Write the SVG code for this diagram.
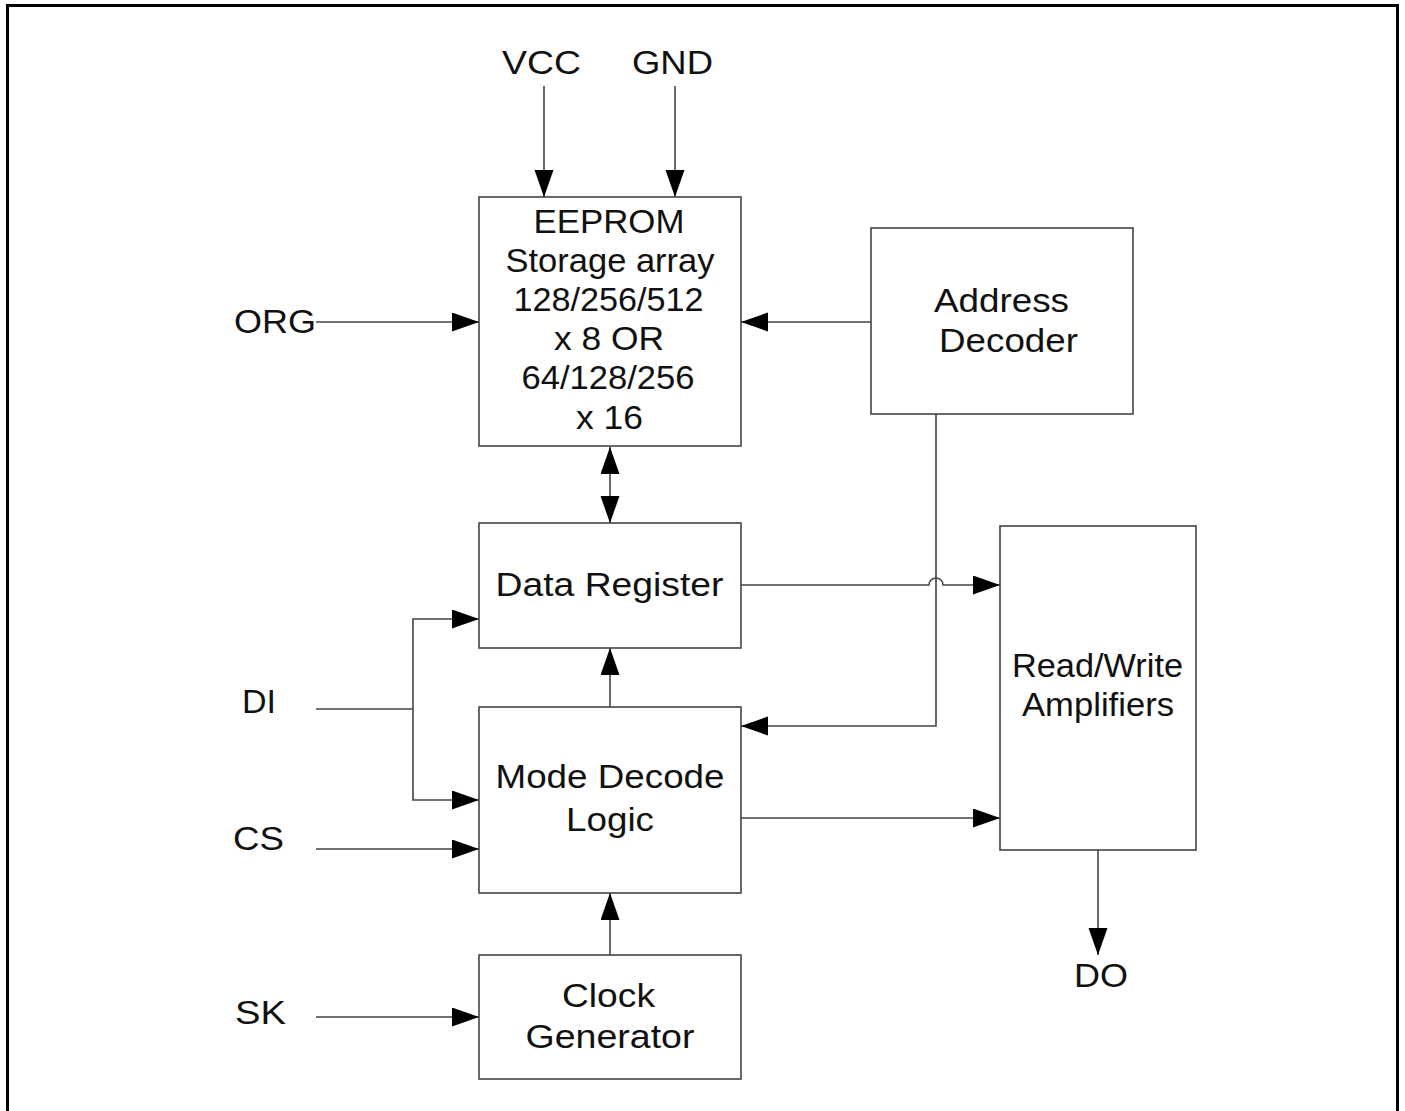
<svg xmlns="http://www.w3.org/2000/svg" width="1405" height="1111" viewBox="0 0 1405 1111">
<style>
.box{fill:#fff;stroke:#444;stroke-width:1.6}
.ln{fill:none;stroke:#444;stroke-width:1.6}
text{font-family:"Liberation Sans",Arial,sans-serif;font-size:33px;fill:#111;text-anchor:middle}
</style>
<defs>
<marker id="ah" markerUnits="userSpaceOnUse" markerWidth="28" markerHeight="20" refX="27" refY="9.5" orient="auto-start-reverse">
<path d="M0,0 L27,9.5 L0,19 z" fill="#000"/>
</marker>
</defs>
<rect x="0" y="0" width="1405" height="1111" fill="#fff"/>
<rect x="7.5" y="5.5" width="1390" height="1120" fill="none" stroke="#000" stroke-width="3"/>

<g id="connectors">
<line class="ln" x1="544" y1="86" x2="544" y2="197" marker-end="url(#ah)"/>
<line class="ln" x1="675" y1="86" x2="675" y2="197" marker-end="url(#ah)"/>
<line class="ln" x1="316" y1="322" x2="479" y2="322" marker-end="url(#ah)"/>
<line class="ln" x1="871" y1="322" x2="741" y2="322" marker-end="url(#ah)"/>
<line class="ln" x1="610" y1="447" x2="610" y2="523" marker-start="url(#ah)" marker-end="url(#ah)"/>
<polyline class="ln" points="936,414 936,726 741,726" marker-end="url(#ah)"/>
<path class="ln" d="M741,585 H929 A7,7 0 0 1 943,585 H1000" marker-end="url(#ah)"/>
<line class="ln" x1="316" y1="709" x2="413" y2="709"/>
<polyline class="ln" points="413,709 413,619 479,619" marker-end="url(#ah)"/>
<polyline class="ln" points="413,709 413,800 479,800" marker-end="url(#ah)"/>
<line class="ln" x1="316" y1="849" x2="479" y2="849" marker-end="url(#ah)"/>
<line class="ln" x1="316" y1="1017" x2="479" y2="1017" marker-end="url(#ah)"/>
<line class="ln" x1="610" y1="707" x2="610" y2="648" marker-end="url(#ah)"/>
<line class="ln" x1="610" y1="955" x2="610" y2="893" marker-end="url(#ah)"/>
<line class="ln" x1="741" y1="818" x2="1000" y2="818" marker-end="url(#ah)"/>
<line class="ln" x1="1098" y1="850" x2="1098" y2="955" marker-end="url(#ah)"/>
</g>

<g id="pins">
<text x="541.5" y="74" textLength="79" lengthAdjust="spacingAndGlyphs">VCC</text>
<text x="672.5" y="74" textLength="81" lengthAdjust="spacingAndGlyphs">GND</text>
<text x="275" y="333" textLength="82" lengthAdjust="spacingAndGlyphs">ORG</text>
<text x="259" y="713" textLength="34" lengthAdjust="spacingAndGlyphs">DI</text>
<text x="258.5" y="850" textLength="51" lengthAdjust="spacingAndGlyphs">CS</text>
<text x="260.5" y="1024" textLength="51" lengthAdjust="spacingAndGlyphs">SK</text>
<text x="1101" y="987" textLength="54" lengthAdjust="spacingAndGlyphs">DO</text>
</g>

<g id="eeprom">
<rect class="box" x="479" y="197" width="262" height="249"/>
<text x="609" y="233" textLength="151" lengthAdjust="spacingAndGlyphs">EEPROM</text>
<text x="610" y="272" textLength="209" lengthAdjust="spacingAndGlyphs">Storage array</text>
<text x="608.5" y="311" textLength="190" lengthAdjust="spacingAndGlyphs">128/256/512</text>
<text x="609" y="350" textLength="110" lengthAdjust="spacingAndGlyphs">x 8 OR</text>
<text x="608" y="389" textLength="173" lengthAdjust="spacingAndGlyphs">64/128/256</text>
<text x="609.5" y="429" textLength="67" lengthAdjust="spacingAndGlyphs">x 16</text>
</g>

<g id="address-decoder">
<rect class="box" x="871" y="228" width="262" height="186"/>
<text x="1001.5" y="312" textLength="135" lengthAdjust="spacingAndGlyphs">Address</text>
<text x="1008.5" y="352" textLength="139" lengthAdjust="spacingAndGlyphs">Decoder</text>
</g>

<g id="data-register">
<rect class="box" x="479" y="523" width="262" height="125"/>
<text x="609.5" y="596" textLength="228" lengthAdjust="spacingAndGlyphs">Data Register</text>
</g>

<g id="mode-decode">
<rect class="box" x="479" y="707" width="262" height="186"/>
<text x="610" y="788" textLength="229" lengthAdjust="spacingAndGlyphs">Mode Decode</text>
<text x="610" y="831" textLength="88" lengthAdjust="spacingAndGlyphs">Logic</text>
</g>

<g id="clock-generator">
<rect class="box" x="479" y="955" width="262" height="124"/>
<text x="608.5" y="1007" textLength="93" lengthAdjust="spacingAndGlyphs">Clock</text>
<text x="610" y="1048" textLength="169" lengthAdjust="spacingAndGlyphs">Generator</text>
</g>

<g id="rw-amplifiers">
<rect class="box" x="1000" y="526" width="196" height="324"/>
<text x="1097.5" y="677" textLength="171" lengthAdjust="spacingAndGlyphs">Read/Write</text>
<text x="1098" y="716" textLength="152" lengthAdjust="spacingAndGlyphs">Amplifiers</text>
</g>
</svg>
